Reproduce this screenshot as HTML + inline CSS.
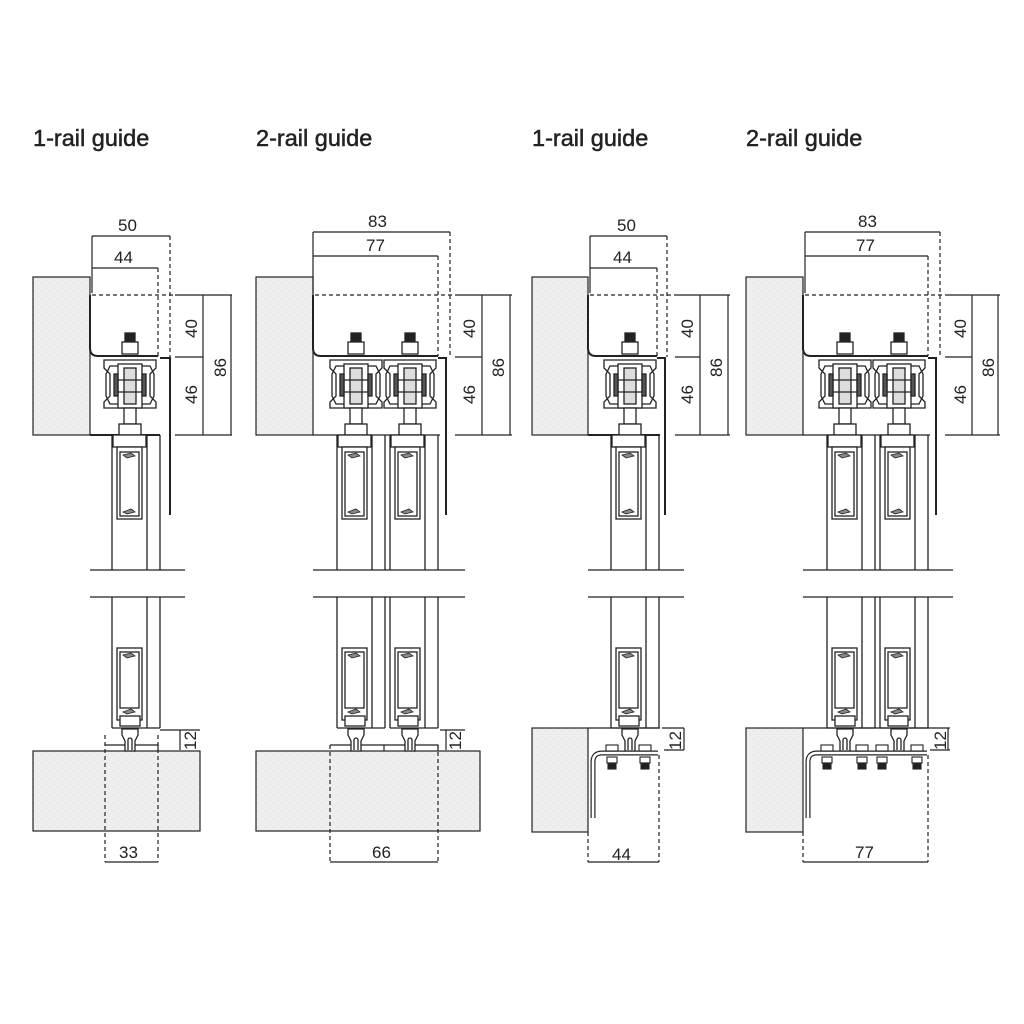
<!DOCTYPE html>
<html><head><meta charset="utf-8"><style>
html,body{margin:0;padding:0;background:#fff}
svg{display:block}
text{font-family:"Liberation Sans",sans-serif;fill:#222}
</style></head><body>
<svg width="1024" height="1024" viewBox="0 0 1024 1024" xmlns="http://www.w3.org/2000/svg">
<defs>
<pattern id="spk" width="8" height="8" patternUnits="userSpaceOnUse">
<rect width="8" height="8" fill="#eeeeee"/>
<circle cx="2" cy="3" r="0.6" fill="#cfcfcf"/><circle cx="6" cy="6" r="0.5" fill="#d6d6d6"/><circle cx="5" cy="1" r="0.4" fill="#d9d9d9"/>
</pattern>
<g id="car" fill="none" stroke="#222" stroke-width="1.3">
<rect x="-5" y="333" width="10" height="9" fill="#222"/>
<rect x="-8" y="342" width="16" height="12" fill="#fff"/>
<path d="M-26 360 h52 v8 l-6 6 v22 l6 6 v6 h-52 v-6 l6 -6 v-22 l-6 -6z" fill="#fff"/>
<path d="M-20 366 h40 l4 8 v22 l-4 8 h-40 l-4 -8 v-22z"/>
<rect x="-12" y="364" width="24" height="44" fill="#fff"/>
<rect x="-6" y="368" width="12" height="36" fill="#ddd"/>
<line x1="-12" y1="380" x2="12" y2="380"/><line x1="-12" y1="392" x2="12" y2="392"/>
<rect x="-16" y="374" width="4" height="22" fill="#555"/><rect x="12" y="374" width="4" height="22" fill="#555"/>
<rect x="-6" y="408" width="12" height="16" fill="#fff"/>
<rect x="-11" y="424" width="22" height="11" fill="#fff"/>
</g>
<g id="doorT" fill="none" stroke="#222" stroke-width="1.3">
<line x1="0" y1="435" x2="0" y2="570"/><line x1="48" y1="435" x2="48" y2="570"/><line x1="35" y1="435" x2="35" y2="570"/>
<rect x="1" y="435" width="33" height="12" fill="#fff"/>
<rect x="5" y="447" width="25" height="72" fill="#fff"/>
<rect x="8" y="452" width="19" height="64"/>
<path d="M11 455 l8 -2 l4 3 l-8 2z M11 512 l8 -3 l4 3 l-8 2z" fill="#888" stroke-width="0.8"/>
</g>
<g id="doorB" fill="none" stroke="#222" stroke-width="1.3">
<line x1="0" y1="597" x2="0" y2="728"/><line x1="48" y1="597" x2="48" y2="728"/><line x1="35" y1="597" x2="35" y2="728"/>
<line x1="0" y1="728" x2="48" y2="728"/>
<rect x="5" y="648" width="25" height="72" fill="#fff"/>
<rect x="8" y="652" width="19" height="56"/>
<path d="M11 655 l8 -2 l4 3 l-8 2z M11 712 l8 -3 l4 3 l-8 2z" fill="#888" stroke-width="0.8"/>
<rect x="8" y="716" width="20" height="10" fill="#fff"/>
</g>
<g id="guide" fill="#fff" stroke="#222" stroke-width="1.3">
<path d="M-8 729 h16 v6 l-3 6 v10 h-10 v-10 l-3 -6z"/>
<path d="M-2 750 v-10 a2 2 0 0 1 4 0 v10" fill="none"/>
</g>
<g id="bolt" stroke="#222" stroke-width="1.1">
<rect x="-6" y="745" width="12" height="6" fill="#fff"/>
<rect x="-5" y="757" width="10" height="6" fill="#fff"/>
<rect x="-4" y="763" width="8" height="6" fill="#222"/>
</g>
</defs>

<g font-size="23.5" stroke="#222" stroke-width="0.5">
<text x="33" y="146">1-rail guide</text>
<text x="256" y="146">2-rail guide</text>
<text x="532" y="146">1-rail guide</text>
<text x="746" y="146">2-rail guide</text>
</g>

<g stroke="#222" stroke-width="1.2" fill="none">
<rect x="33" y="277" width="57" height="158" fill="url(#spk)"/>
<path d="M90 435 H160 M90 295 V348 q0 8 8 8 H158" stroke-width="2"/>
<path d="M92 295 H175 M158 268 V356 M170 236 V357" stroke-dasharray="4 3"/>
<path d="M92 236 H170 M92 236 V293 M92 268 H158"/>
<path d="M175 295 H232 M175 357 H203 M175 435 H232 M203 295 V435 M231 295 V435"/>
<path d="M160 358 H170 V515" stroke-width="2"/>
<use href="#car" x="130"/>
<use href="#doorT" x="112"/>
<path d="M90 570 H185 M90 597 H185"/>
<use href="#doorB" x="112"/>
<rect x="33" y="751" width="167" height="80" fill="url(#spk)"/>
<path d="M105 745 H158 V751" />
<use href="#guide" x="130"/>
<path d="M105 735 V862 M158 735 V862" stroke-dasharray="4 3"/>
<path d="M105 862 H158 M160 730 H200 M180 730 V750"/>

<rect x="256" y="277" width="57" height="158" fill="url(#spk)"/>
<path d="M313 295 V348 q0 8 8 8 H438" stroke-width="2"/>
<path d="M315 295 H455 M438 256 V356 M450 232 V357" stroke-dasharray="4 3"/>
<path d="M313 232 H450 M313 232 V293 M313 256 H438"/>
<path d="M455 295 H512 M455 357 H482 M455 435 H512 M482 295 V435 M510 295 V435"/>
<path d="M313 435 H440"/>
<path d="M438 358 H446 V515" stroke-width="2"/>
<use href="#car" x="356"/><use href="#car" x="410"/>
<use href="#doorT" x="337"/><use href="#doorT" x="390"/>
<path d="M313 570 H465 M313 597 H465"/>
<use href="#doorB" x="337"/><use href="#doorB" x="390"/>
<rect x="256" y="751" width="224" height="80" fill="url(#spk)"/>
<path d="M330 745 H438 V751 M384 745 V751"/>
<use href="#guide" x="356"/><use href="#guide" x="410"/>
<path d="M330 745 V862 M438 745 V862" stroke-dasharray="4 3"/>
<path d="M330 862 H438 M440 730 H465 M446 730 V750"/>

<rect x="532" y="277" width="56" height="158" fill="url(#spk)"/>
<path d="M588 435 H660 M588 295 V348 q0 8 8 8 H657" stroke-width="2"/>
<path d="M590 295 H675 M657 268 V356 M667 236 V357" stroke-dasharray="4 3"/>
<path d="M590 236 H667 M590 236 V293 M590 268 H657"/>
<path d="M675 295 H730 M675 357 H700 M675 435 H730 M700 295 V435 M728 295 V435"/>
<path d="M657 358 H665 V515" stroke-width="2"/>
<use href="#car" x="630"/>
<use href="#doorT" x="611"/>
<path d="M588 570 H684 M588 597 H684"/>
<use href="#doorB" x="611"/>
<rect x="532" y="728" width="56" height="104" fill="url(#spk)"/>
<path d="M588 728 H660"/>
<use href="#guide" x="630"/>
<path d="M593 818 V762 q0 -9 9 -9 H658" stroke-width="5" stroke="#222"/>
<path d="M593 818 V762 q0 -9 9 -9 H658" stroke-width="2.6" stroke="#fff"/>
<use href="#bolt" x="612"/><use href="#bolt" x="645"/>
<path d="M588 832 V862 M659 755 V862" stroke-dasharray="4 3"/>
<path d="M588 862 H659 M662 728 H684 M664 750 H684 M684 728 V750"/>

<rect x="746" y="277" width="57" height="158" fill="url(#spk)"/>
<path d="M803 295 V348 q0 8 8 8 H928" stroke-width="2"/>
<path d="M805 295 H945 M928 256 V356 M940 232 V357" stroke-dasharray="4 3"/>
<path d="M805 232 H940 M805 232 V293 M805 256 H928"/>
<path d="M945 295 H1000 M945 357 H972 M945 435 H1000 M972 295 V435 M998 295 V435"/>
<path d="M803 435 H930"/>
<path d="M928 358 H936 V515" stroke-width="2"/>
<use href="#car" x="845"/><use href="#car" x="899"/>
<use href="#doorT" x="827"/><use href="#doorT" x="880"/>
<path d="M803 570 H953 M803 597 H953"/>
<use href="#doorB" x="827"/><use href="#doorB" x="880"/>
<rect x="746" y="728" width="57" height="104" fill="url(#spk)"/>
<path d="M803 728 H930"/>
<use href="#guide" x="845"/><use href="#guide" x="899"/>
<path d="M808 818 V762 q0 -9 9 -9 H927" stroke-width="5"/>
<path d="M808 818 V762 q0 -9 9 -9 H927" stroke-width="2.6" stroke="#fff"/>
<use href="#bolt" x="827"/><use href="#bolt" x="862"/><use href="#bolt" x="882"/><use href="#bolt" x="917"/>
<path d="M803 832 V862 M928 755 V862" stroke-dasharray="4 3"/>
<path d="M803 862 H928 M930 728 H950 M930 750 H950 M948 728 V750"/>
</g>

<g font-size="17">
<text x="118" y="231">50</text><text x="114" y="263">44</text>
<text x="368" y="227">83</text><text x="366" y="251">77</text>
<text x="617" y="231">50</text><text x="613" y="263">44</text>
<text x="858" y="227">83</text><text x="856" y="251">77</text>
<text x="119" y="858">33</text><text x="372" y="858">66</text>
<text x="612" y="860">44</text><text x="855" y="858">77</text>
<text transform="translate(197,338) rotate(-90)">40</text>
<text transform="translate(197,404) rotate(-90)">46</text>
<text transform="translate(226,377) rotate(-90)">86</text>
<text transform="translate(475,338) rotate(-90)">40</text>
<text transform="translate(475,404) rotate(-90)">46</text>
<text transform="translate(504,377) rotate(-90)">86</text>
<text transform="translate(693,338) rotate(-90)">40</text>
<text transform="translate(693,404) rotate(-90)">46</text>
<text transform="translate(722,377) rotate(-90)">86</text>
<text transform="translate(966,338) rotate(-90)">40</text>
<text transform="translate(966,404) rotate(-90)">46</text>
<text transform="translate(994,377) rotate(-90)">86</text>
<text transform="translate(196,750) rotate(-90)">12</text>
<text transform="translate(461,750) rotate(-90)">12</text>
<text transform="translate(681,750) rotate(-90)">12</text>
<text transform="translate(946,750) rotate(-90)">12</text>
</g>
</svg>
</body></html>
